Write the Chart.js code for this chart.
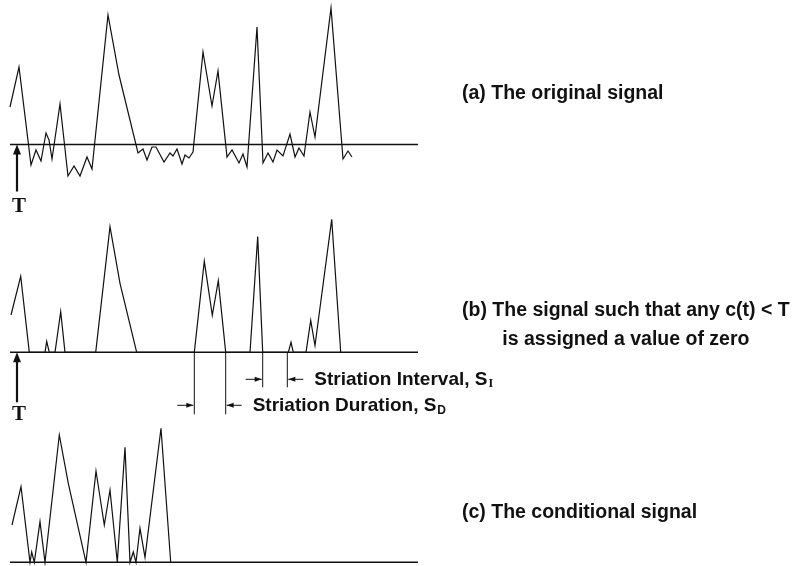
<!DOCTYPE html>
<html>
<head>
<meta charset="utf-8">
<script src="https://cdn.jsdelivr.net/npm/chart.js@4.4.1/dist/chart.umd.min.js"></script>
<style>
  html, body { margin: 0; padding: 0; background: #fff; }
  #wrap { position: relative; width: 802px; height: 566px; }
</style>
</head>
<body>
<div id="wrap"><canvas id="signals" width="802" height="566"></canvas></div>
<script>
// threshold level and the stretch of time the threshold line covers
var threshold = 40;
var thresholdSpan = [10, 418];

// (a) original signal
var timeA = [10, 19, 31, 36, 41, 46, 49, 52, 60, 68, 74, 80, 87, 92, 108, 119, 138, 143, 147, 152,
    156, 164, 170, 173, 177, 182, 185, 189, 193, 203, 212, 218, 227, 232, 239, 243, 247, 257, 263, 268,
    273, 277, 283, 290, 295, 299, 304, 310, 315, 331, 343, 348, 352];
var originalA = [77.5, 117.5, 19.5, 34.5, 23.5, 51.5, 44.5, 25.5, 80.5, 8.5, 18.5, 8.5, 27.5, 15.5, 169.5, 109.5, 31.5, 35.5, 24.5, 37.5,
    37.5, 22.5, 31.5, 28.5, 35.5, 20.5, 29.5, 26.5, 32.5, 132.5, 78.5, 113.5, 27.5, 34.5, 21.5, 30.5, 17.5, 157.5, 21.5, 31.5,
    22.5, 34.5, 28.5, 50.5, 27.5, 36.5, 28.5, 72.5, 47.5, 176.5, 25.5, 33.5, 27.5];

// (b) signal with c(t) < T set to the threshold level
var timeB = [11, 20.7, 29.3, 45, 46.7, 49.3, 55, 60.7, 65, 95.7, 110, 120, 136.7, 194.3, 204.3, 212.3, 218.3, 225.7,
    250, 257.7, 262.7, 288.3, 291, 293.3, 306, 310.7, 315, 331.7, 340.7];
var clippedB = [77.3, 116, 40, 40, 51, 40, 40, 80.7, 40, 40, 165.7, 109, 40, 40, 131, 77, 111.7, 40,
    40, 155.7, 40, 40, 50, 40, 40, 72, 46.7, 173, 40];

// (c) conditional signal
var timeC = [12, 21, 30, 31.7, 34.3, 40, 45, 59.3, 68.3, 86, 96, 104.3, 110, 117.3, 125, 130, 133.3, 136, 140, 145, 161, 170.7];
var conditionalC = [77.3, 115.6, 40, 50.3, 40, 80.6, 40, 167.3, 119, 40, 131.3, 77.3, 112.3, 40, 155, 40, 50.3, 40, 74, 45, 174, 40];

// striation markers (time)
var striationDuration = [194.3, 225.7];
var striationInterval = [262.7, 287.3];

var labelA = '(a) The original signal';
var labelB = ['(b) The signal such that any c(t) < T', 'is assigned a value of zero'];
var labelC = '(c) The conditional signal';
var labelInterval = ['Striation Interval, S', 'I'];
var labelDuration = ['Striation Duration, S', 'D'];
var labelT = 'T';

function pairs(ts, vs) {
    return ts.map(function(t, i) { return {x: t, y: vs[i]}; });
}

function signal(ts, vs, axis) {
    return {data: pairs(ts, vs), yAxisID: axis, borderColor: '#111', borderWidth: 1.2,
        pointRadius: 0, tension: 0, fill: false};
}

function thresholdLine(axis) {
    return {data: [{x: thresholdSpan[0], y: threshold}, {x: thresholdSpan[1], y: threshold}],
        yAxisID: axis, borderColor: '#111', borderWidth: 1.6, pointRadius: 0, fill: false};
}

function upArrow(ctx, px, tip, tail) {
    ctx.lineWidth = 2.2;
    ctx.beginPath();
    ctx.moveTo(px, tip + 6);
    ctx.lineTo(px, tail);
    ctx.stroke();
    ctx.beginPath();
    ctx.moveTo(px, tip);
    ctx.lineTo(px - 4, tip + 10);
    ctx.lineTo(px + 4, tip + 10);
    ctx.closePath();
    ctx.fill();
}

function sideArrow(ctx, tip, py, tail) {
    var dir = tip > tail ? 1 : -1;
    ctx.lineWidth = 1;
    ctx.beginPath();
    ctx.moveTo(tail, py);
    ctx.lineTo(tip, py);
    ctx.stroke();
    ctx.beginPath();
    ctx.moveTo(tip, py);
    ctx.lineTo(tip - dir * 7, py - 2.5);
    ctx.lineTo(tip - dir * 7, py + 2.5);
    ctx.closePath();
    ctx.fill();
}

function subText(ctx, parts, left, py, subFont) {
    ctx.textAlign = 'left';
    ctx.font = 'bold 19px "Liberation Sans", Arial, sans-serif';
    ctx.fillText(parts[0], left, py);
    var w = ctx.measureText(parts[0]).width;
    ctx.font = subFont;
    ctx.fillText(parts[1], left + w + 1, py + 5);
}

var annotations = {
    id: 'annotations',
    afterDraw: function(chart) {
        var ctx = chart.ctx;
        var x = chart.scales.x;
        var baseA = chart.scales.yA.getPixelForValue(threshold);
        var baseB = chart.scales.yB.getPixelForValue(threshold);
        var tx = x.getPixelForValue(17);
        ctx.save();
        ctx.strokeStyle = '#111';
        ctx.fillStyle = '#111';

        // T arrows
        upArrow(ctx, tx, baseA, baseA + 47);
        upArrow(ctx, tx, baseB, baseB + 50);
        ctx.font = 'bold 21px "Liberation Serif", "Times New Roman", serif';
        ctx.textAlign = 'center';
        ctx.textBaseline = 'middle';
        ctx.fillText(labelT, tx + 2, baseA + 62);
        ctx.fillText(labelT, tx + 2, baseB + 62);

        // striation markers
        ctx.lineWidth = 1;
        var d0 = x.getPixelForValue(striationDuration[0]);
        var d1 = x.getPixelForValue(striationDuration[1]);
        var i0 = x.getPixelForValue(striationInterval[0]);
        var i1 = x.getPixelForValue(striationInterval[1]);
        ctx.beginPath();
        ctx.moveTo(d0, baseB); ctx.lineTo(d0, baseB + 62);
        ctx.moveTo(d1, baseB); ctx.lineTo(d1, baseB + 62);
        ctx.moveTo(i0, baseB); ctx.lineTo(i0, baseB + 35);
        ctx.moveTo(i1, baseB); ctx.lineTo(i1, baseB + 35);
        ctx.stroke();
        var yi = baseB + 27, yd = baseB + 53;
        sideArrow(ctx, i0 - 1, yi, i0 - 17);
        sideArrow(ctx, i1 + 1, yi, i1 + 16);
        sideArrow(ctx, d0 - 1, yd, d0 - 17);
        sideArrow(ctx, d1 + 1, yd, d1 + 16);

        ctx.textBaseline = 'middle';
        subText(ctx, labelInterval, i1 + 27, yi, 'bold 12px "Liberation Serif", serif');
        subText(ctx, labelDuration, d1 + 27, yd, 'bold 12px "Liberation Sans", Arial, sans-serif');

        // panel captions
        var left = 462;
        ctx.font = 'bold 19.5px "Liberation Sans", Arial, sans-serif';
        ctx.textAlign = 'left';
        ctx.fillText(labelA, left, 94);
        ctx.fillText(labelB[0], left, 311);
        var w = ctx.measureText(labelB[0]).width;
        ctx.textAlign = 'center';
        ctx.fillText(labelB[1], left + w / 2, 340);
        ctx.textAlign = 'left';
        ctx.fillText(labelC, left, 513);
        ctx.restore();
    }
};

new Chart(document.getElementById('signals').getContext('2d'), {
    type: 'line',
    data: {
        datasets: [
            signal(timeA, originalA, 'yA'), thresholdLine('yA'),
            signal(timeB, clippedB, 'yB'), thresholdLine('yB'),
            signal(timeC, conditionalC, 'yC'), thresholdLine('yC')
        ]
    },
    options: {
        responsive: false,
        animation: false,
        layout: {padding: 0},
        plugins: {legend: {display: false}, tooltip: {enabled: false}},
        scales: {
            x: {type: 'linear', min: 0, max: 802, display: false},
            yA: {type: 'linear', axis: 'y', min: -381.5, max: 184.5, display: false},
            yB: {type: 'linear', axis: 'y', min: -173.7, max: 392.3, display: false},
            yC: {type: 'linear', axis: 'y', min: 36.3, max: 602.3, display: false}
        }
    },
    plugins: [annotations]
});
</script>
</body>
</html>
